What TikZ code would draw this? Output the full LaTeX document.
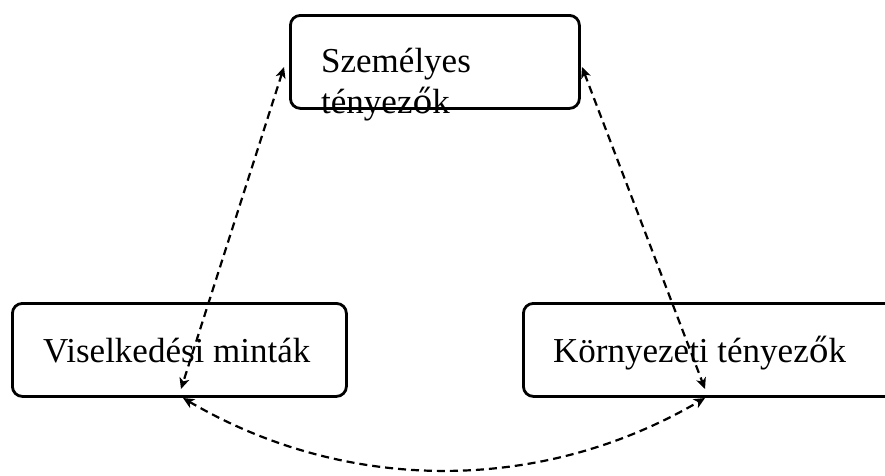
\documentclass[tikz,border=0pt]{standalone}
\usepackage{fontspec}
\setmainfont{Liberation Serif}
\newfontfamily\ofont{DejaVu Serif}
\usetikzlibrary{arrows.meta}
\tikzset{
  box/.style={draw=black, line width=2.8pt, rounded corners=10pt, inner sep=0pt},
  lbl/.style={inner sep=0pt, font=\fontsize{35}{41}\selectfont},
  link/.style={dash pattern=on 8pt off 5pt, line width=2.2pt,
    {Stealth[length=11pt,width=10pt,inset=3pt]}-{Stealth[length=11pt,width=10pt,inset=3pt]}}
}
\newcommand{\oacute}{{\ofont\fontsize{33}{41}\selectfont ő}}
\begin{document}
\begin{tikzpicture}[x=1pt,y=-1pt]
\useasboundingbox (0,0) rectangle (885,475);
% boxes
\node[box, minimum width=289pt, minimum height=93pt, anchor=north west] (top) at (289,14) {};
\node[box, minimum width=334pt, minimum height=93pt, anchor=north west] (left) at (11,302) {};
\node[box, minimum width=380pt, minimum height=93pt, anchor=north west] (right) at (522,302) {};
% texts
\node[lbl, anchor=base west] (toptextA) at (321,72) {Személyes};
\node[lbl, anchor=base west] (toptextB) at (321,113) {tényez\oacute k};
\node[lbl, anchor=base west] (lefttext) at (43,362) {Viselkedési minták};
\node[lbl, anchor=base west] (righttext) at (553,362) {Környezeti tényez\oacute k};
% connector ends
\coordinate (lt) at (284,67);
\coordinate (lb) at (181,389);
\coordinate (rt) at (582,67);
\coordinate (rb) at (705,389);
\coordinate (bl) at (183,398);
\coordinate (br) at (705,398);
\draw[link] (lt) -- (lb);
\draw[link] (rt) -- (rb);
\draw[link] (bl) .. controls (347,494) and (541,494) .. (br);
\end{tikzpicture}
\end{document}
